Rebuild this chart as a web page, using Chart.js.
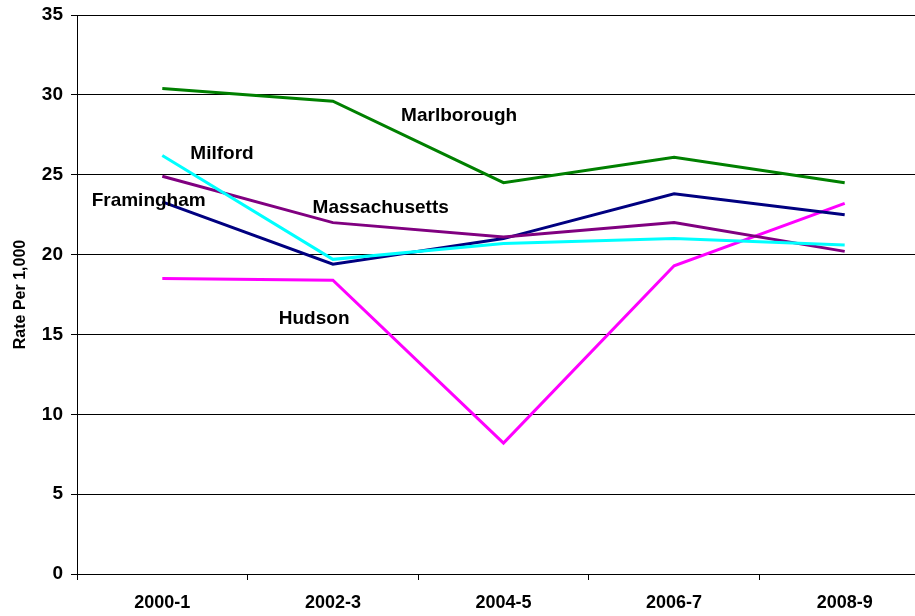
<!DOCTYPE html>
<html>
<head>
<meta charset="utf-8">
<script src="https://cdn.jsdelivr.net/npm/chart.js@4.4.0/dist/chart.umd.min.js"></script>
<style>
  html, body { margin: 0; padding: 0; background: #fff; overflow: hidden; }
  #wrap { width: 930px; height: 616px; }
</style>
</head>
<body>
<div id="wrap"><canvas id="rateChart" width="930" height="616"></canvas></div>
<script>
// Data
const periods = ['2000-1', '2002-3', '2004-5', '2006-7', '2008-9'];
const marlborough = [30.4, 29.6, 24.5, 26.1, 24.5];
const milford = [26.2, 19.7, 20.7, 21.0, 20.6];
const massachusetts = [24.9, 22.0, 21.1, 22.0, 20.2];
const framingham = [23.3, 19.4, 21.0, 23.8, 22.5];
const hudson = [18.5, 18.4, 8.2, 19.3, 23.2];

// Series labels drawn inside the plot (category index, value)
const seriesLabels = [
    { text: 'Marlborough', x: 1.74, y: 28.7 },
    { text: 'Milford', x: 0.35, y: 26.3 },
    { text: 'Framingham', x: -0.08, y: 23.4 },
    { text: 'Massachusetts', x: 1.28, y: 22.9 },
    { text: 'Hudson', x: 0.89, y: 16.0 }
];

const fontFamily = '"Liberation Sans", Arial, sans-serif';

function line(label, data, color) {
    return {
        label,
        data,
        borderColor: color,
        backgroundColor: color,
        borderWidth: 3,
        pointRadius: 0,
        tension: 0,
        fill: false
    };
}

// Draw the series names at data positions
const labelPlugin = {
    id: 'seriesLabels',
    afterDatasetsDraw(chart) {
        const ctx = chart.ctx;
        const xs = chart.scales.x;
        const ys = chart.scales.y;
        const step = xs.getPixelForValue(1) - xs.getPixelForValue(0);
        ctx.save();
        ctx.font = 'bold 19px ' + fontFamily;
        ctx.fillStyle = '#000';
        ctx.textAlign = 'center';
        ctx.textBaseline = 'middle';
        seriesLabels.forEach(l => {
            const px = xs.getPixelForValue(0) + l.x * step;
            ctx.fillText(l.text, px, ys.getPixelForValue(l.y));
        });
        ctx.restore();
    }
};

const ctx = document.getElementById('rateChart').getContext('2d');
new Chart(ctx, {
    type: 'line',
    data: {
        labels: periods,
        datasets: [
            line('Marlborough', marlborough, '#008000'),
            line('Milford', milford, '#00FFFF'),
            line('Massachusetts', massachusetts, '#800080'),
            line('Framingham', framingham, '#000080'),
            line('Hudson', hudson, '#FF00FF')
        ]
    },
    options: {
        responsive: false,
        animation: false,
        layout: { padding: { top: 15, left: 0, right: 0, bottom: 0 } },
        plugins: {
            legend: { display: false },
            tooltip: { enabled: false }
        },
        scales: {
            x: {
                offset: true,
                grid: {
                    offset: true,
                    drawOnChartArea: false,
                    drawTicks: true,
                    tickLength: 6,
                    color: '#000'
                },
                border: { color: '#000', width: 1 },
                ticks: {
                    color: '#000',
                    font: { family: fontFamily, size: 18, weight: 'bold' },
                    padding: 12,
                    maxRotation: 0
                },
                afterFit(scale) {
                    scale.height = 42;
                    scale.paddingLeft = 0;
                    scale.paddingRight = 0;
                }
            },
            y: {
                min: 0,
                max: 35,
                ticks: {
                    stepSize: 5,
                    color: '#000',
                    font: { family: fontFamily, size: 19, weight: 'bold' },
                    padding: 8
                },
                grid: {
                    color: '#000',
                    lineWidth: 1,
                    tickLength: 6
                },
                border: { color: '#000', width: 1 },
                title: {
                    display: true,
                    text: 'Rate Per 1,000',
                    color: '#000',
                    font: { family: fontFamily, size: 16, weight: 'bold' },
                    padding: { top: 11, bottom: 0 }
                },
                afterFit(scale) {
                    scale.width = 77;
                    scale.paddingTop = 0;
                    scale.paddingBottom = 0;
                }
            }
        }
    },
    plugins: [labelPlugin]
});
</script>
</body>
</html>
